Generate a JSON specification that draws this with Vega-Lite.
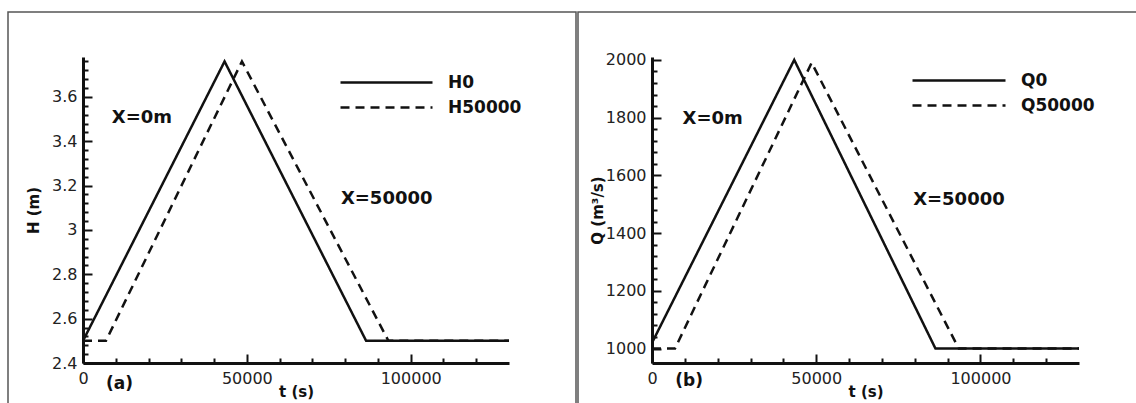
{
  "$schema": "https://vega.github.io/schema/vega-lite/v6.json",
  "padding": {"left": 7, "top": 11, "right": 0, "bottom": 0},
  "background": "white",
  "spacing": 0,
  "config": {
    "view": {"stroke": "#555", "strokeWidth": 1.5},
    "axis": {
      "grid": false,
      "domainColor": "#111",
      "domainWidth": 3,
      "tickColor": "#111",
      "tickWidth": 2,
      "tickCount": 100,
      "labelFont": "DejaVu Sans",
      "labelFontSize": 16,
      "labelColor": "#222",
      "labelOverlap": false,
      "labelBound": false,
      "labelFlush": false,
      "titleFont": "DejaVu Sans",
      "titleFontSize": 15,
      "titleFontWeight": "bold",
      "titleColor": "#111"
    },
    "legend": {
      "labelFont": "DejaVu Sans",
      "labelFontWeight": "bold",
      "labelFontSize": 17,
      "labelColor": "#111"
    }
  },
  "datasets": {
    "H": [
      {"t": 0, "v": 2.5, "s": "H0"},
      {"t": 43200, "v": 3.76, "s": "H0"},
      {"t": 86400, "v": 2.5, "s": "H0"},
      {"t": 130000, "v": 2.5, "s": "H0"},
      {"t": 0, "v": 2.5, "s": "H50000"},
      {"t": 7000, "v": 2.5, "s": "H50000"},
      {"t": 48500, "v": 3.76, "s": "H50000"},
      {"t": 93200, "v": 2.5, "s": "H50000"},
      {"t": 130000, "v": 2.5, "s": "H50000"}
    ],
    "Ha": [
      {"t": 8800, "v": 3.505, "label": "X=0m"},
      {"t": 78700, "v": 3.14, "label": "X=50000"}
    ],
    "Hp": [
      {"t": 7000, "v": 2.305, "label": "(a)"}
    ],
    "Q": [
      {"t": 0, "v": 1020, "s": "Q0"},
      {"t": 43300, "v": 2000, "s": "Q0"},
      {"t": 86300, "v": 1000, "s": "Q0"},
      {"t": 130000, "v": 1000, "s": "Q0"},
      {"t": 0, "v": 1000, "s": "Q50000"},
      {"t": 7000, "v": 1000, "s": "Q50000"},
      {"t": 48600, "v": 1990, "s": "Q50000"},
      {"t": 93400, "v": 1000, "s": "Q50000"},
      {"t": 130000, "v": 1000, "s": "Q50000"}
    ],
    "Qa": [
      {"t": 9300, "v": 1795, "label": "X=0m"},
      {"t": 79500, "v": 1515, "label": "X=50000"}
    ],
    "Qp": [
      {"t": 7100, "v": 888, "label": "(b)"}
    ]
  },
  "hconcat": [
    {
      "width": 568,
      "height": 400,
      "layer": [
        {
          "data": {"name": "H"},
          "mark": {"type": "line", "strokeWidth": 2.5, "color": "#111"},
          "encoding": {
            "x": {
              "field": "t", "type": "quantitative",
              "scale": {"domain": [0, 130000], "range": [75, 501], "nice": false, "zero": false},
              "axis": {
                "title": "t (s)", "orient": "bottom", "offset": -49, "tickCount": 100,
                "values": [0, 10000, 20000, 30000, 40000, 50000, 60000, 70000, 80000, 90000, 100000, 110000, 120000],
                "format": "d",
                "labelOverlap": false,
                "labelExpr": "datum.value % 50000 === 0 ? datum.label : ''",
                "tickSize": {"condition": {"test": "datum.value % 50000 === 0", "value": -9}, "value": -5},
                "labelPadding": 16,
                "titlePadding": -6
              }
            },
            "y": {
              "field": "v", "type": "quantitative",
              "scale": {"domain": [2.4, 3.78], "range": [351, 45], "nice": false, "zero": false},
              "axis": {
                "title": "H (m)", "orient": "left", "offset": -75, "tickCount": 100,
                "values": [2.4, 2.44, 2.48, 2.52, 2.56, 2.6, 2.64, 2.68, 2.72, 2.76, 2.8, 2.84, 2.88, 2.92, 2.96, 3, 3.04, 3.08, 3.12, 3.16, 3.2, 3.24, 3.28, 3.32, 3.36, 3.4, 3.44, 3.48, 3.52, 3.56, 3.6, 3.64, 3.68, 3.72, 3.76],
                "format": "~g",
                "labelOverlap": false,
                "labelExpr": "abs(datum.value*5 - round(datum.value*5)) < 0.001 ? datum.label : ''",
                "tickSize": {"condition": {"test": "abs(datum.value*5 - round(datum.value*5)) < 0.001", "value": -9}, "value": -5},
                "labelPadding": 15,
                "titlePadding": 10
              }
            },
            "strokeDash": {
              "field": "s", "type": "nominal",
              "scale": {"domain": ["H0", "H50000"], "range": [[1, 0], [9, 6]]},
              "legend": {
                "orient": "none", "legendX": 331, "legendY": 58, "title": null,
                "symbolType": "stroke", "symbolSize": 8464, "symbolStrokeWidth": 2.5,
                "symbolStrokeColor": "#111", "clipHeight": 25, "rowPadding": 0, "labelOffset": 14
              }
            }
          }
        },
        {
          "data": {"name": "Ha"},
          "mark": {"type": "text", "font": "DejaVu Sans", "fontWeight": "bold", "fontSize": 18, "align": "left", "baseline": "middle", "color": "#111"},
          "encoding": {
            "x": {"field": "t", "type": "quantitative"},
            "y": {"field": "v", "type": "quantitative"},
            "text": {"field": "label"}
          }
        },
        {
          "data": {"name": "Hp"},
          "mark": {"type": "text", "font": "DejaVu Sans", "fontWeight": "bold", "fontSize": 17, "align": "left", "baseline": "middle", "color": "#111"},
          "encoding": {
            "x": {"field": "t", "type": "quantitative"},
            "y": {"field": "v", "type": "quantitative"},
            "text": {"field": "label"}
          }
        }
      ]
    },
    {
      "width": 565,
      "height": 400,
      "layer": [
        {
          "data": {"name": "Q"},
          "mark": {"type": "line", "strokeWidth": 2.5, "color": "#111"},
          "encoding": {
            "x": {
              "field": "t", "type": "quantitative",
              "scale": {"domain": [0, 130000], "range": [74, 501], "nice": false, "zero": false},
              "axis": {
                "title": "t (s)", "orient": "bottom", "offset": -49, "tickCount": 100,
                "values": [0, 10000, 20000, 30000, 40000, 50000, 60000, 70000, 80000, 90000, 100000, 110000, 120000],
                "format": "d",
                "labelOverlap": false,
                "labelExpr": "datum.value % 50000 === 0 ? datum.label : ''",
                "tickSize": {"condition": {"test": "datum.value % 50000 === 0", "value": -9}, "value": -5},
                "labelPadding": 16,
                "titlePadding": -6
              }
            },
            "y": {
              "field": "v", "type": "quantitative",
              "scale": {"domain": [950, 2010], "range": [351, 45], "nice": false, "zero": false},
              "axis": {
                "title": "Q (m³/s)", "orient": "left", "offset": -74, "tickCount": 100,
                "values": [1000, 1040, 1080, 1120, 1160, 1200, 1240, 1280, 1320, 1360, 1400, 1440, 1480, 1520, 1560, 1600, 1640, 1680, 1720, 1760, 1800, 1840, 1880, 1920, 1960, 2000],
                "format": "d",
                "labelOverlap": false,
                "labelExpr": "datum.value % 200 === 0 ? datum.label : ''",
                "tickSize": {"condition": {"test": "datum.value % 200 === 0", "value": -9}, "value": -5},
                "labelPadding": 15,
                "titlePadding": 0
              }
            },
            "strokeDash": {
              "field": "s", "type": "nominal",
              "scale": {"domain": ["Q0", "Q50000"], "range": [[1, 0], [9, 6]]},
              "legend": {
                "orient": "none", "legendX": 333, "legendY": 56, "title": null,
                "symbolType": "stroke", "symbolSize": 8649, "symbolStrokeWidth": 2.5,
                "symbolStrokeColor": "#111", "clipHeight": 25, "rowPadding": 0, "labelOffset": 14
              }
            }
          }
        },
        {
          "data": {"name": "Qa"},
          "mark": {"type": "text", "font": "DejaVu Sans", "fontWeight": "bold", "fontSize": 18, "align": "left", "baseline": "middle", "color": "#111"},
          "encoding": {
            "x": {"field": "t", "type": "quantitative"},
            "y": {"field": "v", "type": "quantitative"},
            "text": {"field": "label"}
          }
        },
        {
          "data": {"name": "Qp"},
          "mark": {"type": "text", "font": "DejaVu Sans", "fontWeight": "bold", "fontSize": 17, "align": "left", "baseline": "middle", "color": "#111"},
          "encoding": {
            "x": {"field": "t", "type": "quantitative"},
            "y": {"field": "v", "type": "quantitative"},
            "text": {"field": "label"}
          }
        }
      ]
    }
  ],
  "resolve": {"scale": {"strokeDash": "independent"}, "legend": {"strokeDash": "independent"}}
}
